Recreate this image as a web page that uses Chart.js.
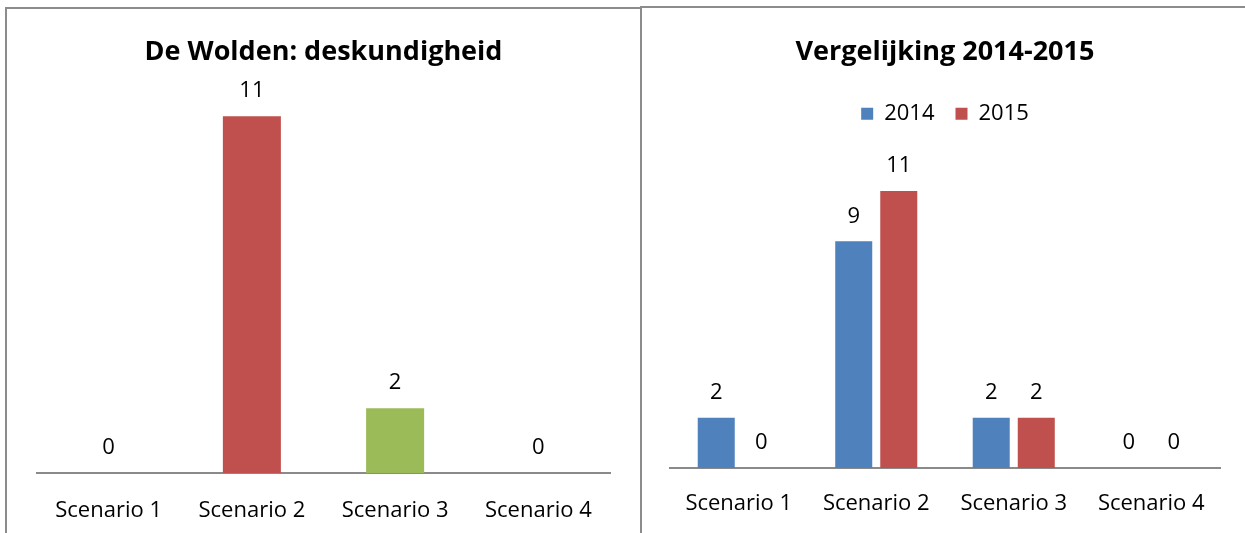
<!DOCTYPE html>
<html>
<head>
<meta charset="utf-8">
<script src="https://cdn.jsdelivr.net/npm/chart.js@4.4.0/dist/chart.umd.min.js"></script>
<style>
  html, body { margin: 0; padding: 0; background: #fff; width: 1245px; height: 533px; overflow: hidden; }
  .panel { position: absolute; border: 2px solid #8c8c8c; box-sizing: border-box; background: #fff; }
  .wrap { position: absolute; }
</style>
</head>
<body>
<div class="panel" style="left:5px; top:7px; width:638px; height:600px;"></div>
<div class="panel" style="left:640px; top:6px; width:700px; height:600px;"></div>
<div class="wrap" style="left:7px; top:9px; width:633px; height:524px;"><canvas id="c1"></canvas></div>
<div class="wrap" style="left:643px; top:9px; width:600px; height:524px;"><canvas id="c2"></canvas></div>
<script>
const categories = ['Scenario 1', 'Scenario 2', 'Scenario 3', 'Scenario 4'];
const woldenValues = [0, 11, 2, 0];
const values2014 = [2, 9, 2, 0];
const values2015 = [0, 11, 2, 0];
const seriesNames = ['2014', '2015'];
const leftTitle = 'De Wolden: deskundigheid';
const rightTitle = 'Vergelijking 2014-2015';

const BLUE = '#4F81BD', RED = '#C0504D', GREEN = '#9BBB59', PURPLE = '#8064A2';
const FONT = "'Open Sans', 'Noto Sans', sans-serif";
const TXT = 22;

const valueLabels = {
  id: 'valueLabels',
  afterDatasetsDraw(chart) {
    const ctx = chart.ctx;
    ctx.save();
    ctx.font = TXT + "px " + FONT;
    ctx.fillStyle = '#000';
    ctx.textAlign = 'center';
    ctx.textBaseline = 'middle';
    chart.data.datasets.forEach((ds, i) => {
      const meta = chart.getDatasetMeta(i);
      meta.data.forEach((el, j) => {
        ctx.fillText(String(ds.data[j]), el.x, el.y - 25);
      });
    });
    ctx.restore();
  }
};

const legendSpace = {
  id: 'legendSpace',
  beforeInit(chart, args, opts) {
    const orig = chart.legend.fit;
    chart.legend.fit = function () {
      orig.call(this);
      this.height += opts.extra || 0;
    };
  }
};

function xScale(pad, height) {
  return {
    grid: { display: false, drawTicks: false },
    border: { display: true, color: '#8a8a8a', width: 2 },
    ticks: { color: '#000', font: { family: FONT, size: TXT }, padding: pad },
    afterFit(s) { s.height = height; }
  };
}

new Chart(document.getElementById('c1'), {
  type: 'bar',
  data: {
    labels: categories,
    datasets: [{
      data: woldenValues,
      backgroundColor: [BLUE, RED, GREEN, PURPLE],
      categoryPercentage: 1,
      barPercentage: 0.405
    }]
  },
  options: {
    responsive: true, maintainAspectRatio: false, animation: false,
    layout: { padding: { left: 30, right: 30, top: 0, bottom: 0 } },
    plugins: {
      legend: { display: false },
      tooltip: { enabled: false },
      title: { display: true, text: leftTitle, color: '#000',
        font: { family: FONT, size: 27, weight: 'bold' },
        padding: { top: 27, bottom: 15.4 } }
    },
    scales: {
      x: xScale(25, 60),
      y: { display: false, min: 0, max: 12 }
    }
  },
  plugins: [valueLabels]
});

new Chart(document.getElementById('c2'), {
  type: 'bar',
  data: {
    labels: categories,
    datasets: [
      { label: seriesNames[0], data: values2014, backgroundColor: BLUE, categoryPercentage: 0.655, barPercentage: 0.822 },
      { label: seriesNames[1], data: values2015, backgroundColor: RED, categoryPercentage: 0.655, barPercentage: 0.822 }
    ]
  },
  options: {
    responsive: true, maintainAspectRatio: false, animation: false,
    layout: { padding: { left: 27, right: 23, top: 0, bottom: 0 } },
    plugins: {
      tooltip: { enabled: false },
      legendSpace: { extra: 31 },
      title: { display: true, text: rightTitle, color: '#000',
        font: { family: FONT, size: 27, weight: 'bold' },
        padding: { top: 27, bottom: 13.4 } },
      legend: { display: true, position: 'top',
        labels: { color: '#000', font: { family: FONT, size: TXT }, boxWidth: 12, boxHeight: 12, padding: 21 } }
    },
    scales: {
      x: xScale(23, 65),
      y: { display: false, min: 0, max: 12 }
    }
  },
  plugins: [valueLabels, legendSpace]
});
</script>
</body>
</html>
